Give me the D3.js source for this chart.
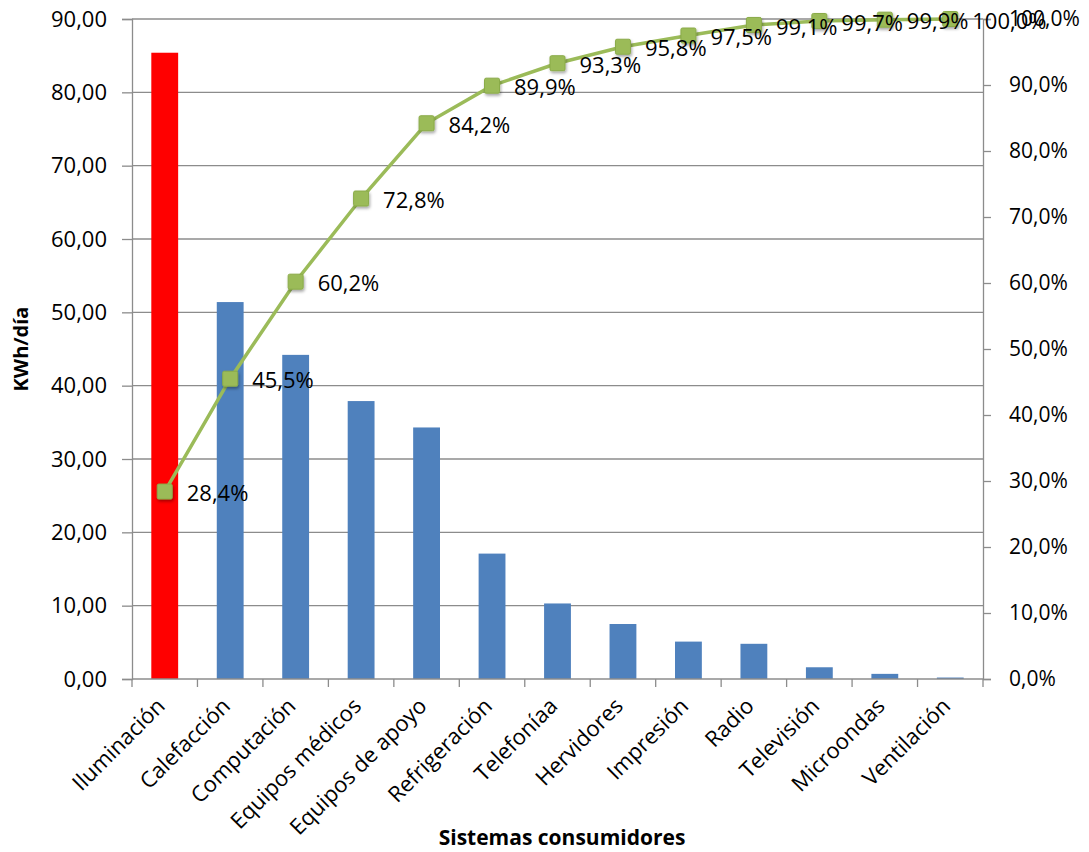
<!DOCTYPE html>
<html>
<head>
<meta charset="utf-8">
<script src="https://cdn.jsdelivr.net/npm/d3@7"></script>
<style>
  body { margin: 0; background: #fff; }
  text { font-family: "Open Sans", "Noto Sans", sans-serif; fill: #000; }
</style>
</head>
<body>
<svg id="chart" width="1089" height="852"></svg>
<script>
var categories = ["Iluminación", "Calefacción", "Computación", "Equipos médicos", "Equipos de apoyo",
  "Refrigeración", "Telefoníaa", "Hervidores", "Impresión", "Radio", "Televisión", "Microondas", "Ventilación"];
var kwh = [85.4, 51.4, 44.2, 37.9, 34.3, 17.1, 10.3, 7.5, 5.1, 4.8, 1.6, 0.7, 0.2];
var cumPct = [28.4, 45.5, 60.2, 72.8, 84.2, 89.9, 93.3, 95.8, 97.5, 99.1, 99.7, 99.9, 100.0];
var leftTicks = [0, 10, 20, 30, 40, 50, 60, 70, 80, 90];
var rightTicks = [0, 10, 20, 30, 40, 50, 60, 70, 80, 90, 100];

var margin = { top: 19, right: 106, bottom: 173, left: 132 };
var width = 1089 - margin.left - margin.right;
var height = 852 - margin.top - margin.bottom;

var fmt2 = function(v) { return d3.format(".2f")(v).replace(".", ","); };
var fmt1 = function(v) { return d3.format(".1f")(v).replace(".", ",") + "%"; };

var svg = d3.select("#chart");
var defs = svg.append("defs");
var shadow = defs.append("filter").attr("id", "shadow").attr("x", "-50%").attr("y", "-50%").attr("width", "200%").attr("height", "200%");
shadow.append("feDropShadow").attr("dx", 1).attr("dy", 2).attr("stdDeviation", 1.5).attr("flood-color", "#000").attr("flood-opacity", 0.35);

var g = svg.append("g").attr("transform", "translate(" + margin.left + "," + margin.top + ")");

var x = d3.scaleBand().domain(categories).range([0, width]).paddingInner(0.59).paddingOuter(0.295);
var xb = d3.scaleBand().domain(categories).range([0, width]);
var y = d3.scaleLinear().domain([0, 90]).range([height, 0]);
var y2 = d3.scaleLinear().domain([0, 100]).range([height, 0]);

// gridlines
g.append("g").selectAll("line").data(leftTicks.slice(1)).enter().append("line")
  .attr("x1", 0).attr("x2", width)
  .attr("y1", function(d) { return y(d); }).attr("y2", function(d) { return y(d); })
  .style("stroke", "#8c8c8c").style("stroke-width", 1.3);

// bars
g.append("g").selectAll("rect").data(kwh).enter().append("rect")
  .attr("x", function(d, i) { return x(categories[i]); })
  .attr("width", x.bandwidth())
  .attr("y", function(d) { return y(d); })
  .attr("height", function(d) { return height - y(d); })
  .style("fill", function(d, i) { return i === 0 ? "#ff0000" : "#4f81bd"; });

// left axis
var yAxis = d3.axisLeft(y).tickValues(leftTicks).tickFormat(fmt2).tickSize(10).tickPadding(15);
var ya = g.append("g").call(yAxis);
ya.selectAll("text").style("font-size", "22px");

// right axis
var yAxis2 = d3.axisRight(y2).tickValues(rightTicks).tickFormat(fmt1).tickSize(8).tickPadding(18);
var ya2 = g.append("g").attr("transform", "translate(" + width + ",0)").call(yAxis2);
ya2.selectAll("text").style("font-size", "21px");

// bottom axis: ticks at category boundaries
var xa = g.append("g").attr("transform", "translate(0," + height + ")");
xa.append("line").attr("x1", 0).attr("x2", width).attr("y1", 0).attr("y2", 0);
xa.selectAll("line.tk").data(categories.concat(["_end"])).enter().append("line").attr("class", "tk")
  .attr("x1", function(d, i) { return i * xb.step(); }).attr("x2", function(d, i) { return i * xb.step(); })
  .attr("y1", 0).attr("y2", 8);
xa.selectAll("text").data(categories).enter().append("text")
  .attr("transform", function(d) {
    return "translate(" + (xb(d) + xb.bandwidth() / 2 - 4) + ",23) rotate(-45)";
  })
  .attr("text-anchor", "end")
  .attr("dy", "0.35em")
  .style("font-size", "22px")
  .text(function(d) { return d; });
xa.selectAll("line").style("stroke", "#8c8c8c").style("stroke-width", 1.3);

[ya, ya2].forEach(function(a) {
  a.select(".domain").style("stroke", "#8c8c8c").style("stroke-width", 1.3);
  a.selectAll(".tick line").style("stroke", "#8c8c8c").style("stroke-width", 1.3);
});

// cumulative line
var cx = function(i) { return xb(categories[i]) + xb.bandwidth() / 2; };
var line = d3.line().x(function(d, i) { return cx(i); }).y(function(d) { return y2(d); });
g.append("path").datum(cumPct).attr("d", line)
  .style("fill", "none").style("stroke", "#9bbb59").style("stroke-width", 3.5);

g.append("g").selectAll("rect").data(cumPct).enter().append("rect")
  .attr("x", function(d, i) { return cx(i) - 7.5; })
  .attr("y", function(d) { return y2(d) - 7.5; })
  .attr("width", 15).attr("height", 15).attr("rx", 1.5)
  .style("fill", "#9bbb59").style("stroke", "#8aab48").style("stroke-width", 1)
  .attr("filter", "url(#shadow)");

g.append("g").selectAll("text").data(cumPct).enter().append("text")
  .attr("x", function(d, i) { return cx(i) + 22; })
  .attr("y", function(d) { return y2(d) + 2; })
  .attr("dy", "0.35em")
  .style("font-size", "22px")
  .text(fmt1);

// axis titles
svg.append("text")
  .attr("transform", "translate(28," + (margin.top + height / 2) + ") rotate(-90)")
  .attr("text-anchor", "middle")
  .style("font-size", "20px").style("font-weight", "bold")
  .text("KWh/día");

svg.append("text")
  .attr("x", 562).attr("y", 845)
  .attr("text-anchor", "middle")
  .style("font-size", "21px").style("font-weight", "bold")
  .text("Sistemas consumidores");
</script>
</body>
</html>
